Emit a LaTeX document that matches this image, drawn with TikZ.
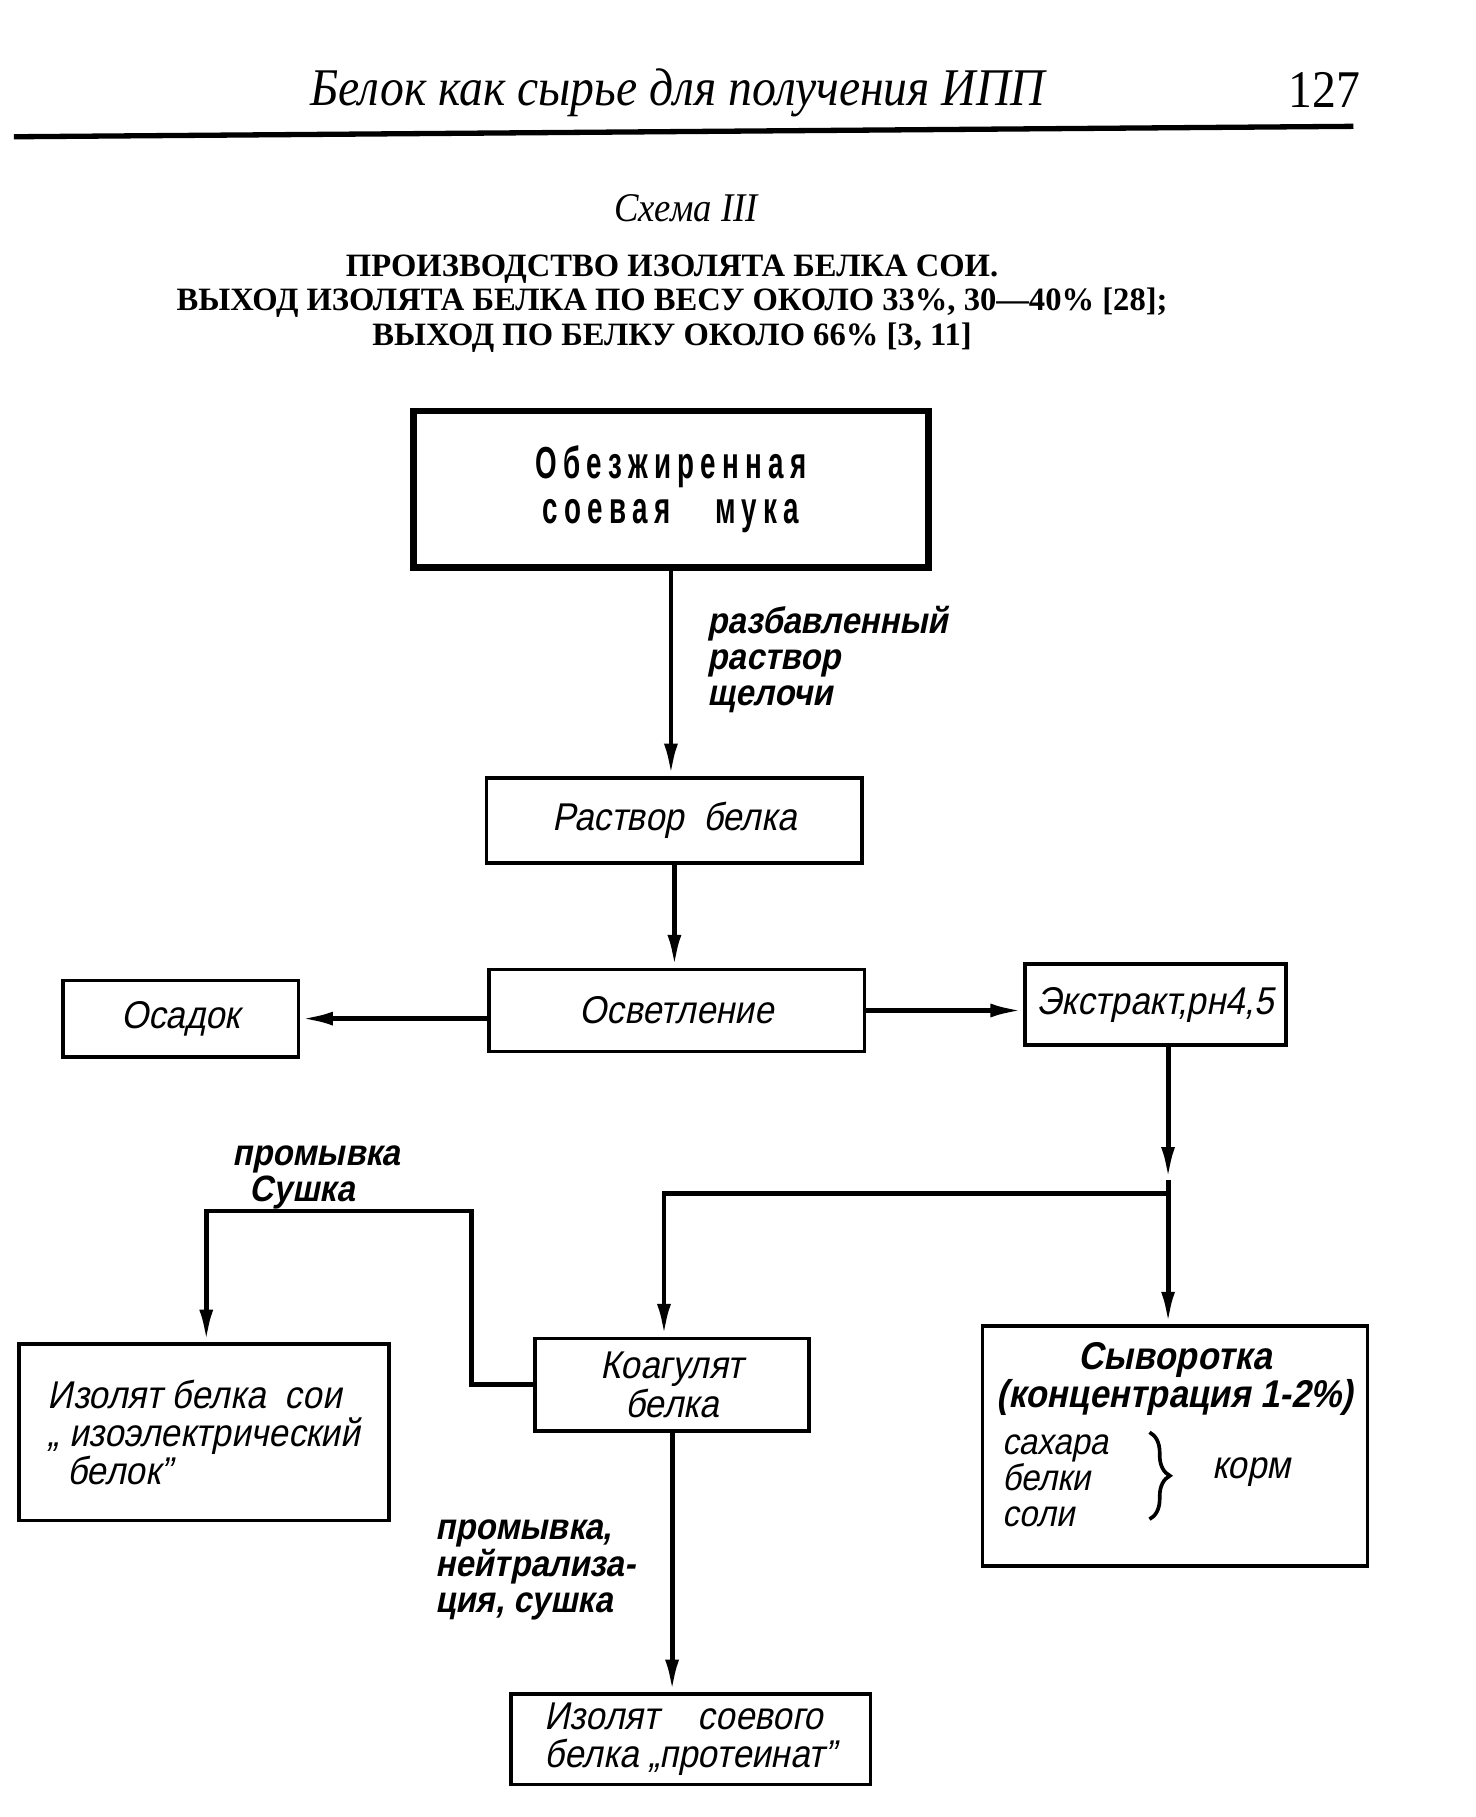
\documentclass[tikz,border=0pt]{standalone}
\usepackage{fontspec}
\setmainfont{Liberation Serif}
\newfontfamily\headfont[FakeStretch=0.9]{Liberation Serif}
\newfontfamily\titlefont{Liberation Serif}
\newfontfamily\hand[FakeStretch=0.9,FakeSlant=0.2]{Liberation Sans}
\newfontfamily\handup[FakeStretch=0.62,LetterSpace=14]{Liberation Sans}
\usetikzlibrary{arrows.meta,decorations.pathreplacing}
\lineskiplimit=-50pt

\tikzset{
  box/.style={draw, line width=0.9pt, inner sep=0pt, align=center,
    font=\hand\fontsize{9.5}{9.4}\selectfont},
  arr/.style={line width=1.2pt, -{Latex[length=8pt,width=3.4pt]}},
  lbl/.style={align=left, inner sep=0pt,
    font=\hand\bfseries\fontsize{9}{8.9}\selectfont},
}

\begin{document}
\begin{tikzpicture}[x=0.01cm, y=-0.01cm]
  \useasboundingbox (0,0) rectangle (1273,1568);

  % page head
  \node (head) at (585,80) {\headfont\itshape\fontsize{13}{13}\selectfont Белок как сырье для получения ИПП};
  \node (page) at (1143,78) {\headfont\fontsize{13}{13}\selectfont 127};
  \coordinate (r1) at (12,118);
  \coordinate (r2) at (1168,109);
  \draw[line width=1.3pt] (r1) -- (r2);

  \node (scheme) at (592,180) {\headfont\itshape\fontsize{10}{10}\selectfont Схема III};
  \node[align=center, font=\titlefont\bfseries\fontsize{8}{8.5}\selectfont] (title) at (580,262)
    {ПРОИЗВОДСТВО ИЗОЛЯТА БЕЛКА СОИ.\\
     ВЫХОД ИЗОЛЯТА БЕЛКА ПО ВЕСУ ОКОЛО 33\%, 30—40\% [28];\\
     ВЫХОД ПО БЕЛКУ ОКОЛО 66\% [3, 11]};

  % boxes
  \node[box, line width=1.6pt, minimum width=4.44cm, minimum height=1.35cm,
    font=\handup\bfseries\fontsize{11}{11.2}\selectfont] (flour) at (579,422) {Обезжиренная\\соевая\quad мука};
  \node[box, minimum width=3.24cm, minimum height=0.73cm] (sol) at (582,708) {Раствор\enspace белка};
  \node[box, minimum width=3.24cm, minimum height=0.71cm] (clar) at (584,872) {Осветление};
  \node[box, minimum width=2.03cm, minimum height=0.66cm] (sed) at (156,879) {Осадок};
  \node[box, minimum width=2.25cm, minimum height=0.70cm] (ext) at (997,867) {Экстракт,рн4,5};
  \node[box, minimum width=2.36cm, minimum height=0.80cm] (coag) at (580,1195) {Коагулят\\белка};
  \node[box, minimum width=3.19cm, minimum height=1.52cm, align=left] (iso) at (176,1236)
    {Изолят белка\enspace сои\\„ изоэлектрический\\\enspace белок”};
  \node[box, minimum width=3.32cm, minimum height=2.07cm] (whey) at (1014,1248) {};
  \node[box, minimum width=3.10cm, minimum height=0.78cm, align=left] (prot) at (596,1501)
    {Изолят\quad соевого\\белка „протеинат”};

  % inside the whey box
  \node[align=center, font=\hand\bfseries\fontsize{9.5}{9.4}\selectfont] (wheyhd) at (1014,1190)
    {Сыворотка\\(концентрация 1-2\%)};
  \node[anchor=west, align=left, inner sep=0pt, font=\hand\fontsize{9}{8.9}\selectfont] (wlist) at (864,1278)
    {сахара\\белки\\соли};
  \node[font=\hand\fontsize{9.5}{9.5}\selectfont] (feed) at (1080,1270) {корм};
  \coordinate (br1) at (992,1236);
  \coordinate (br2) at (992,1311);
  \draw[line width=0.9pt, decorate, decoration={brace, amplitude=5pt}] (br1) -- (br2);

  % connectors
  \coordinate (split) at (1008,1030);
  \coordinate (midtip) at (1008,1018);
  \coordinate (turn) at (573,1030);
  \coordinate (wash1) at (407,1045);
  \coordinate (wash2) at (178,1045);

  \draw[arr] (flour.south) -- (flour.south |- sol.north);
  \draw[arr] (sol.south) -- (sol.south |- clar.north);
  \draw[arr] (clar.west |- sed.east) -- (sed.east);
  \draw[arr] (clar.east) -- (clar.east -| ext.west);
  \draw[arr] (split |- ext.south) -- (midtip);
  \draw[arr] (midtip) -- (midtip |- whey.north);
  \draw[arr] (split) -- (turn) -- (turn |- coag.north);
  \draw[arr] (coag.west) -| (wash1) -- (wash2) -- (wash2 |- iso.north);
  \draw[arr] (coag.south) -- (coag.south |- prot.north);

  % labels on the arrows
  \node[lbl, anchor=north west] (alkali) at (610,522) {разбавленный\\раствор\\щелочи};
  \node[lbl, anchor=north west] (wash) at (200,988) {промывка\\\hspace*{0.15cm}Сушка};
  \node[lbl, anchor=north west] (neutr) at (375,1311) {промывка,\\нейтрализа-\\ция, сушка};
\end{tikzpicture}
\end{document}
